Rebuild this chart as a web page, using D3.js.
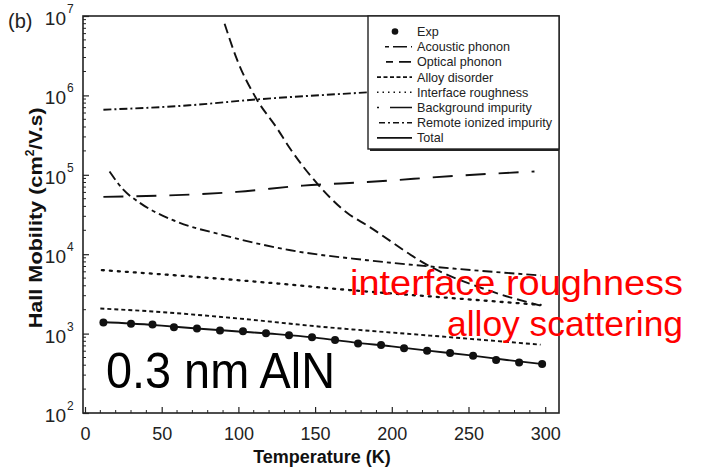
<!DOCTYPE html>
<html><head><meta charset="utf-8">
<script src="https://cdn.jsdelivr.net/npm/d3@7"></script>
<style>body{margin:0;background:#fff}text{font-family:"Liberation Sans",Arial,sans-serif}</style>
</head><body><svg id="c" width="701" height="469"></svg>
<script>
// ---- data ----
const expT  = [12,30,44,58,73,88,103,118,133,148,163,178,193,208,223,238,253,268,283,298];
const expMu = [1377,1327,1301,1202,1157,1092,1069,1009,951,898,832,753,719,652,610,570,527,465,434,413];
const totalT  = [10,30,50,75,100,125,150,175,200,225,250,275,300];
const totalMu = [1400,1340,1260,1150,1065,985,890,775,690,605,535,465,410];
const acousticT  = [16,25,36,57,90,134,184,240,297];
const acousticMu = [1.1e5,6.5e4,4.4e4,2.7e4,1.74e4,1.12e4,8.4e3,6.6e3,5.4e3];
const opticalT  = [91,99,112,125,134,151,171,184,225,263,297];
const opticalMu = [8.0e6,2.86e6,8.9e5,3.9e5,2.1e5,7.9e4,3.3e4,2.3e4,7.0e3,3.5e3,2.25e3];
const alloyT  = [10,44,100,152,225,297];
const alloyMu = [2070,1900,1550,1230,944,726];
const interfaceT  = [11,60,118,175,233,297];
const interfaceMu = [6300,5400,4400,3500,2860,2300];
const backgroundT  = [12,99,142,184,245,293];
const backgroundMu = [5.27e4,6.1e4,7.3e4,8.1e4,9.8e4,1.1e5];
const remoteT  = [12,68,112,173,240,300];
const remoteMu = [6.6e5,7.5e5,8.9e5,1.06e6,1.25e6,1.4e6];
const xTicks = [0,50,100,150,200,250,300];
const yTicks = [1e2,1e3,1e4,1e5,1e6,1e7];
const legendLabels = ["Exp","Acoustic phonon","Optical phonon","Alloy disorder","Interface roughness","Background impurity","Remote ionized impurity","Total"];

// ---- layout ----
const svg = d3.select("#c");
const L = 83, R = 559, T = 16, B = 413;
const x = d3.scaleLinear().domain([-1.3, 309]).range([L, R]);
const y = d3.scaleLog().domain([1e2, 1e7]).range([B, T]);

const styles = {
  acoustic: "10,4,4,4",
  optical: "10,5",
  alloy: "4,3",
  interface: "2,6",
  background: "20,13",
  remote: "8,3,2,3",
  total: null
};
const series = [
  {k:"remote", t:remoteT, v:remoteMu},
  {k:"background", t:backgroundT, v:backgroundMu},
  {k:"optical", t:opticalT, v:opticalMu},
  {k:"acoustic", t:acousticT, v:acousticMu},
  {k:"interface", t:interfaceT, v:interfaceMu},
  {k:"alloy", t:alloyT, v:alloyMu},
  {k:"total", t:totalT, v:totalMu}
];
const line = d3.line().x(d=>x(d[0])).y(d=>y(d[1])).curve(d3.curveMonotoneX);

svg.append("clipPath").attr("id","clip").append("rect").attr("x",L).attr("y",T).attr("width",R-L).attr("height",B-T);
const g = svg.append("g").attr("clip-path","url(#clip)");
series.forEach(s=>{
  g.append("path").datum(s.t.map((t,i)=>[t,s.v[i]]))
    .attr("d",line).attr("fill","none").attr("stroke","#111")
    .attr("stroke-width", s.k==="interface"?2.3:1.9)
    .attr("stroke-linecap", s.k==="interface"?"round":"butt")
    .attr("stroke-dasharray", styles[s.k]);
});
g.selectAll("circle.exp").data(expT.map((t,i)=>[t,expMu[i]])).enter().append("circle")
  .attr("cx",d=>x(d[0])).attr("cy",d=>y(d[1])).attr("r",4).attr("fill","#111");

// frame
svg.append("rect").attr("x",L).attr("y",T).attr("width",R-L).attr("height",B-T)
  .attr("fill","none").attr("stroke","#222").attr("stroke-width",1.6);

// x axis ticks (inside)
const xAxis = d3.axisBottom(x).tickValues(xTicks).tickSize(-6).tickFormat(d3.format("d")).tickPadding(14);
const xa = svg.append("g").attr("transform",`translate(0,${B})`).call(xAxis);
xa.select(".domain").remove();
xa.selectAll("line").attr("stroke","#222").attr("stroke-width",1.2);
xa.selectAll("text").attr("font-size",18).attr("fill","#222").attr("font-family","Liberation Sans, Arial, sans-serif");
const xMinor = d3.range(10,310,10).filter(v=>v%50!==0);
svg.append("g").selectAll("line").data(xMinor).enter().append("line")
  .attr("x1",d=>x(d)).attr("x2",d=>x(d)).attr("y1",B).attr("y2",B-3).attr("stroke","#222").attr("stroke-width",1);

// y axis ticks (inside)
const ya = svg.append("g").attr("transform",`translate(${L},0)`)
  .call(d3.axisLeft(y).tickValues(yTicks).tickSize(-6).tickFormat(""));
ya.select(".domain").remove();
ya.selectAll("line").attr("stroke","#222").attr("stroke-width",1.2);
const yMinor = [];
for (let e=2;e<7;e++) for (let m=2;m<10;m++) yMinor.push(m*Math.pow(10,e));
svg.append("g").selectAll("line").data(yMinor).enter().append("line")
  .attr("x1",L).attr("x2",L+3).attr("y1",d=>y(d)).attr("y2",d=>y(d)).attr("stroke","#222").attr("stroke-width",1);
// y tick labels 10^n
svg.append("g").selectAll("text").data(yTicks).enter().append("text")
  .attr("x",66).attr("y",d=>y(d)+9).attr("text-anchor","end").attr("font-size",19).attr("fill","#222").text("10");
svg.append("g").selectAll("text").data(yTicks).enter().append("text")
  .attr("x",67).attr("y",d=>y(d)-3).attr("font-size",12).attr("fill","#222").text(d=>Math.round(Math.log10(d)));

// axis titles
svg.append("text").attr("x",322).attr("y",463).attr("text-anchor","middle")
  .attr("font-size",18).attr("font-weight","bold").attr("fill","#111").text("Temperature (K)");
const yt = svg.append("text").attr("transform","translate(42,218) rotate(-90)").attr("text-anchor","middle")
  .attr("font-size",18).attr("font-weight","bold").attr("fill","#111");
yt.append("tspan").attr("textLength",172).attr("lengthAdjust","spacingAndGlyphs").text("Hall Mobility (cm");
yt.append("tspan").attr("font-size",12).attr("dy",-8).text("2");
yt.append("tspan").attr("dy",8).attr("textLength",42).attr("lengthAdjust","spacingAndGlyphs").text("/V.s)");

svg.append("text").attr("x",8).attr("y",28).attr("font-size",20).attr("fill","#222").text("(b)");

// legend
const lg = svg.append("g");
lg.append("rect").attr("x",370).attr("y",T+1).attr("width",R-370).attr("height",134)
  .attr("fill","#222");
lg.append("rect").attr("x",368).attr("y",T).attr("width",R-368).attr("height",133)
  .attr("fill","#fff").attr("stroke","#222").attr("stroke-width",1.4);
const legKeys = ["exp","acoustic","optical","alloy","interface","background","remote","total"];
legendLabels.forEach((lab,i)=>{
  const cy = 31.5 + 15.2*i;
  const k = legKeys[i];
  if (k==="exp") {
    lg.append("circle").attr("cx",395).attr("cy",cy).attr("r",3.3).attr("fill","#111");
  } else {
    let x1=377, x2=412, dash=null;
    if (k==="acoustic") {x1=385; dash="4,4,14";}
    if (k==="optical") {x1=386; dash="7,6,12";}
    if (k==="alloy") dash="4,2.5";
    if (k==="interface") dash="1.5,4";
    if (k==="background") dash="2,11,30";
    if (k==="remote") {x1=379; dash="6,3,2,3";}
    lg.append("line").attr("x1",x1).attr("x2",x2).attr("y1",cy).attr("y2",cy)
      .attr("stroke","#111").attr("stroke-width",1.6).attr("stroke-dasharray",dash);
  }
  lg.append("text").attr("x",417).attr("y",cy+4.5).attr("font-size",12.6).attr("fill","#222").text(lab);
});

// annotations
svg.append("text").attr("x",350).attr("y",295).attr("font-size",35).attr("fill","#ff0000")
  .attr("textLength",333).attr("lengthAdjust","spacingAndGlyphs").text("interface roughness");
svg.append("text").attr("x",447).attr("y",336).attr("font-size",35).attr("fill","#ff0000")
  .attr("textLength",236).attr("lengthAdjust","spacingAndGlyphs").text("alloy scattering");
svg.append("text").attr("x",106).attr("y",388).attr("font-size",50).attr("fill","#000")
  .attr("textLength",229).attr("lengthAdjust","spacingAndGlyphs").text("0.3 nm AlN");
</script></body></html>
